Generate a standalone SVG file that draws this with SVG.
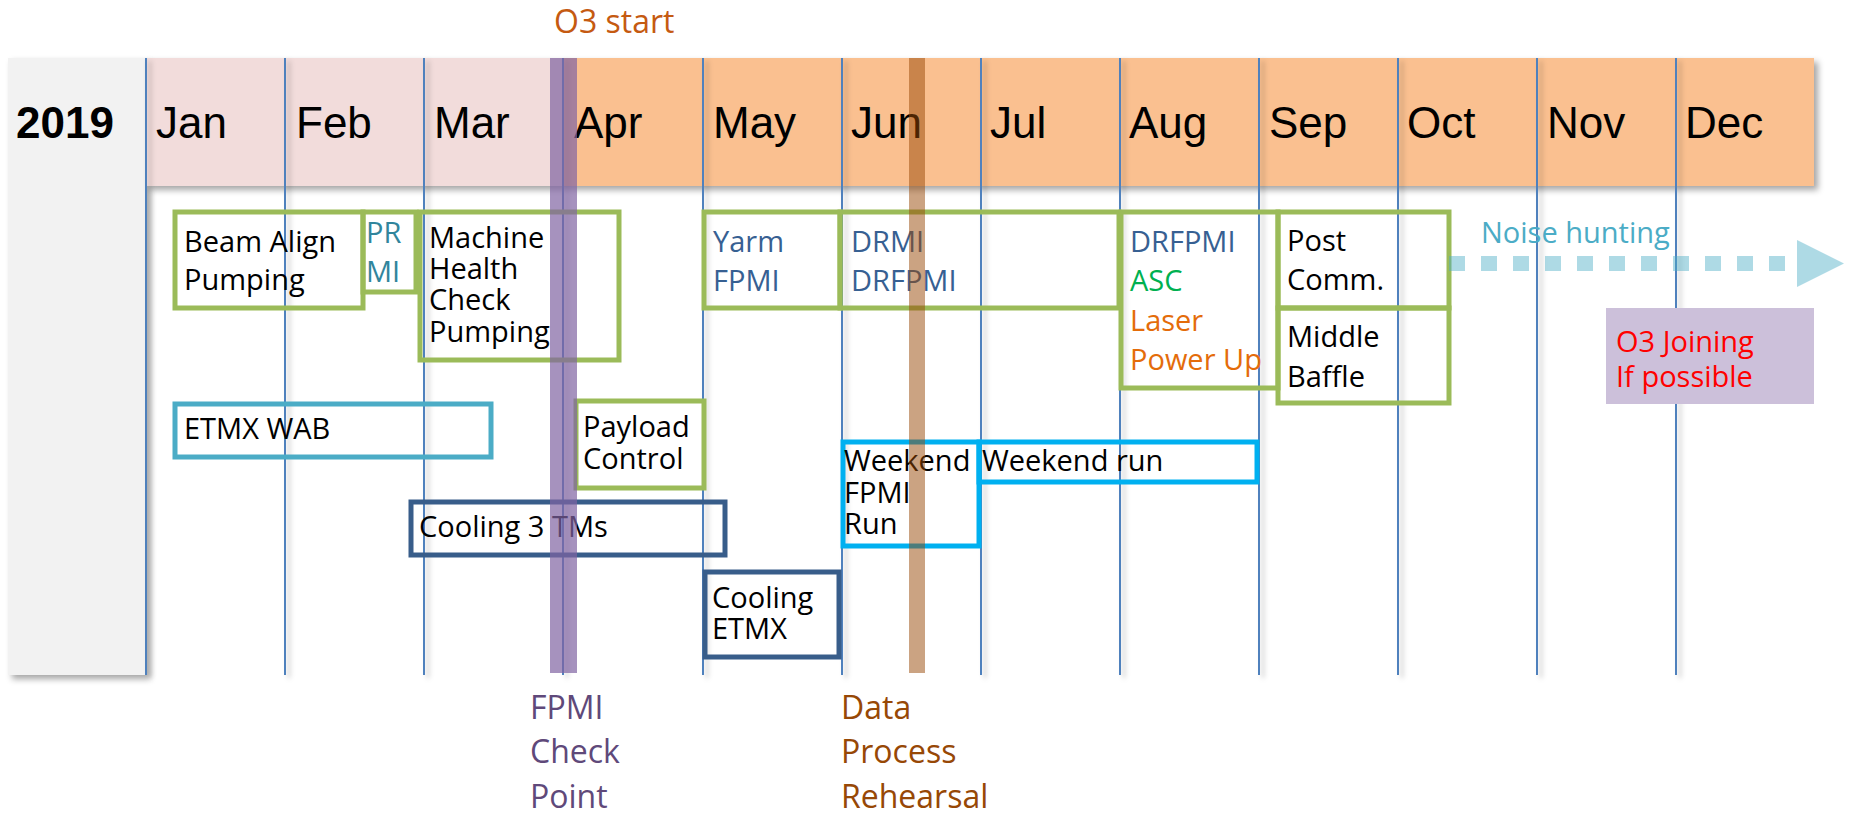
<svg xmlns="http://www.w3.org/2000/svg" width="1849" height="814" viewBox="0 0 1849 814">
<style>
.box{fill:none;stroke-width:5}
.g{stroke:#9BBB59}
.c{stroke:#4BACC6}
.d{stroke:#385D8A}
.b{stroke:#00B0F0}
.t{font-family:"Open Sans","Noto Sans",sans-serif;font-size:29px}
.lbl{font-family:"Open Sans","Noto Sans",sans-serif;font-size:32px}
.month{font-family:"Liberation Sans",Arial,sans-serif;font-size:44px;fill:#000}
.vl{stroke:#4F81BD;stroke-width:2}
.blue{fill:#376092}
</style>
<defs>
<filter id="sh" x="-20%" y="-20%" width="140%" height="140%">
<feDropShadow dx="4" dy="4" stdDeviation="3" flood-color="#000" flood-opacity="0.35"/>
</filter>
<filter id="lsh" x="-200%" y="-5%" width="500%" height="110%">
<feDropShadow dx="4" dy="3" stdDeviation="2.5" flood-color="#000" flood-opacity="0.25"/>
</filter>
</defs>

<g id="background">
<rect x="8" y="58" width="138" height="617" fill="#F2F2F2" filter="url(#sh)"/>
<g filter="url(#sh)">
<rect x="146" y="58" width="417" height="128" fill="#F2DCDB"/>
<rect x="563" y="58" width="1251" height="128" fill="#FAC090"/>
</g>
</g>

<g id="month-lines" filter="url(#lsh)">
<line class="vl" x1="146" y1="58" x2="146" y2="675"/>
<line class="vl" x1="285" y1="58" x2="285" y2="675"/>
<line class="vl" x1="424" y1="58" x2="424" y2="675"/>
<line class="vl" x1="563" y1="58" x2="563" y2="675"/>
<line class="vl" x1="703" y1="58" x2="703" y2="675"/>
<line class="vl" x1="842" y1="58" x2="842" y2="675"/>
<line class="vl" x1="981" y1="58" x2="981" y2="675"/>
<line class="vl" x1="1120" y1="58" x2="1120" y2="675"/>
<line class="vl" x1="1259" y1="58" x2="1259" y2="675"/>
<line class="vl" x1="1398" y1="58" x2="1398" y2="675"/>
<line class="vl" x1="1537" y1="58" x2="1537" y2="675"/>
<line class="vl" x1="1676" y1="58" x2="1676" y2="675"/>
</g>

<g id="header-labels">
<text x="16" y="138" font-family="Liberation Sans,Arial,sans-serif" font-size="44" font-weight="bold" fill="#000">2019</text>
<text class="month" x="156" y="138">Jan</text>
<text class="month" x="296" y="138">Feb</text>
<text class="month" x="434" y="138">Mar</text>
<text class="month" x="574" y="138">Apr</text>
<text class="month" x="713" y="138">May</text>
<text class="month" x="851" y="138">Jun</text>
<text class="month" x="990" y="138">Jul</text>
<text class="month" x="1129" y="138">Aug</text>
<text class="month" x="1269" y="138">Sep</text>
<text class="month" x="1407" y="138">Oct</text>
<text class="month" x="1547" y="138">Nov</text>
<text class="month" x="1685" y="138">Dec</text>
</g>

<g id="o3-start"><text class="lbl" x="554" y="33" fill="#C55A11">O3 start</text></g>

<g id="beam-align">
<rect class="box g" x="175" y="212" width="188" height="96"/>
<text class="t" x="184" y="252">Beam Align</text>
<text class="t" x="184" y="290">Pumping</text>
</g>
<g id="prmi">
<rect class="box g" x="363" y="212" width="53" height="80"/>
<text class="t" x="366" y="243" fill="#31859C">PR</text>
<text class="t" x="366" y="282" fill="#31859C">MI</text>
</g>
<g id="machine-health">
<rect class="box g" x="420" y="212" width="199" height="148"/>
<text class="t" x="429" y="248">Machine</text>
<text class="t" x="429" y="279">Health</text>
<text class="t" x="429" y="310">Check</text>
<text class="t" x="429" y="342">Pumping</text>
</g>
<g id="yarm-fpmi">
<rect class="box g" x="704" y="212" width="136" height="96"/>
<text class="t blue" x="713" y="252">Yarm</text>
<text class="t blue" x="713" y="291">FPMI</text>
</g>
<g id="drmi">
<rect class="box g" x="840" y="212" width="279" height="96"/>
<text class="t blue" x="851" y="252">DRMI</text>
<text class="t blue" x="851" y="291">DRFPMI</text>
</g>
<g id="drfpmi">
<rect class="box g" x="1121" y="212" width="157" height="176"/>
<text class="t blue" x="1130" y="252">DRFPMI</text>
<text class="t" x="1130" y="291" fill="#00B050">ASC</text>
<text class="t" x="1130" y="331" fill="#E46C0A">Laser</text>
<text class="t" x="1130" y="370" fill="#E46C0A">Power Up</text>
</g>
<g id="post-comm">
<rect class="box g" x="1278" y="212" width="171" height="96"/>
<text class="t" x="1287" y="251">Post</text>
<text class="t" x="1287" y="290">Comm.</text>
</g>
<g id="middle-baffle">
<rect class="box g" x="1278" y="308" width="171" height="95"/>
<text class="t" x="1287" y="347">Middle</text>
<text class="t" x="1287" y="387">Baffle</text>
</g>
<g id="etmx-wab">
<rect class="box c" x="175" y="404" width="316" height="53"/>
<text class="t" x="184" y="439">ETMX WAB</text>
</g>
<g id="payload-control">
<rect class="box g" x="576" y="401" width="128" height="87"/>
<text class="t" x="583" y="437">Payload</text>
<text class="t" x="583" y="469">Control</text>
</g>
<g id="cooling-3tms">
<rect class="box d" x="411" y="502" width="314" height="53"/>
<text class="t" x="419" y="537">Cooling 3 TMs</text>
</g>
<g id="cooling-etmx">
<rect class="box d" x="705" y="572" width="134" height="85"/>
<text class="t" x="712" y="608">Cooling</text>
<text class="t" x="712" y="639">ETMX</text>
</g>
<g id="weekend-fpmi-run">
<rect class="box b" x="843" y="442" width="136" height="104"/>
<text class="t" x="844" y="471">Weekend</text>
<text class="t" x="844" y="503">FPMI</text>
<text class="t" x="844" y="534">Run</text>
</g>
<g id="weekend-run">
<rect class="box b" x="979" y="442" width="278" height="40"/>
<text class="t" x="982" y="471">Weekend run</text>
</g>
<g id="o3-joining">
<rect x="1606" y="308" width="208" height="96" fill="#CCC0DA"/>
<text class="t" x="1616" y="352" fill="#FF0000">O3 Joining</text>
<text class="t" x="1616" y="387" fill="#FF0000">If possible</text>
</g>

<g id="connectors">
<line x1="1449" y1="263.5" x2="1797" y2="263.5" stroke="#4BACC6" stroke-opacity="0.45" stroke-width="15" stroke-dasharray="16 16"/>
<polygon points="1797,240 1844,263.5 1797,287" fill="#4BACC6" fill-opacity="0.45"/>
<text class="t" x="1481" y="243" fill="#4BACC6">Noise hunting</text>
</g>

<g id="fpmi-checkpoint">
<rect x="550" y="58" width="27" height="615" fill="#8064A2" fill-opacity="0.7"/>
<text class="lbl" x="530" y="719" fill="#5F497A">FPMI</text>
<text class="lbl" x="530" y="763" fill="#5F497A">Check</text>
<text class="lbl" x="530" y="808" fill="#5F497A">Point</text>
</g>
<g id="data-process-rehearsal">
<rect x="909" y="58" width="16" height="615" fill="#974806" fill-opacity="0.5"/>
<text class="lbl" x="841" y="719" fill="#974806">Data</text>
<text class="lbl" x="841" y="763" fill="#974806">Process</text>
<text class="lbl" x="841" y="808" fill="#974806">Rehearsal</text>
</g>
</svg>
